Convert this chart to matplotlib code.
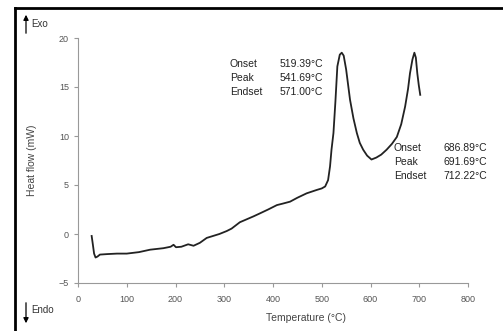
import matplotlib.pyplot as plt
from matplotlib.lines import Line2D
from matplotlib.patches import FancyArrowPatch

# DSC curve
temperature = [28, 30, 33, 36, 40, 45, 60, 80, 100, 125, 148, 175, 190, 196, 201, 212,
               226, 237, 250, 264, 277, 290, 305, 315, 332, 346, 360, 373, 390, 408,
               420, 435, 450, 469, 490, 500, 507, 513, 517, 520, 524, 528, 532, 537,
               541, 545, 550, 558, 565, 572, 578, 585, 593, 602, 612, 622, 633, 644,
               654, 663, 671, 677, 681, 686, 690, 693, 696, 699, 702]
heat_flow = [-0.2, -0.9, -2.0, -2.4, -2.3, -2.1, -2.05, -2.0, -2.0, -1.85, -1.6, -1.45,
             -1.3, -1.1, -1.35, -1.3, -1.05, -1.2, -0.9, -0.4, -0.2, 0.0, 0.3, 0.55,
             1.2, 1.5, 1.8, 2.1, 2.5, 2.95, 3.1, 3.3, 3.7, 4.15, 4.5, 4.65, 4.85, 5.5,
             6.9, 8.6, 10.3, 13.5, 17.1, 18.3, 18.5, 18.2, 16.8, 13.7, 11.8, 10.3, 9.3,
             8.6, 8.0, 7.6, 7.8, 8.1, 8.6, 9.2, 9.9, 11.2, 13.0, 14.8, 16.4, 17.8, 18.5,
             18.0, 16.4, 15.2, 14.2]

x_ticks = [0, 100, 200, 300, 400, 500, 600, 700, 800]
x_tick_labels = ["0", "100", "200", "300", "400", "500", "600", "700", "800"]
y_ticks = [-5, 0, 5, 10, 15, 20]

labels_1 = ["Onset", "Peak", "Endset"]
values_1 = ["519.39°C", "541.69°C", "571.00°C"]
labels_2 = ["Onset", "Peak", "Endset"]
values_2 = ["686.89°C", "691.69°C", "712.22°C"]

W, H = 503, 331
plt.rcParams['font.family'] = ['Liberation Sans', 'DejaVu Sans']

fig = plt.figure(figsize=(W / 100, H / 100), dpi=100)
ax = fig.add_axes([78 / W, 1 - 283 / H, 390 / W, 245 / H])

ax.plot(temperature, heat_flow, color="#222222", lw=1.3)
ax.set_xlim(0, 800)
ax.set_ylim(-5, 20)
ax.set_xticks(x_ticks)
ax.set_xticklabels(x_tick_labels)
ax.set_yticks(y_ticks)

for side in ["top", "right"]:
    ax.spines[side].set_visible(False)
for side in ["left", "bottom"]:
    ax.spines[side].set_color("#999999")
    ax.spines[side].set_linewidth(0.8)
ax.tick_params(colors="#999999", labelcolor="#555555", labelsize=6.5, length=3, width=0.8)
ax.tick_params(axis="x", pad=6)

ax.set_xlabel("Temperature (°C)", fontsize=7.5, color="#444444")
ax.xaxis.set_label_coords((306 - 78) / 390, -(318 - 283) / 245 + 0.02)
ax.set_ylabel("Heat flow (mW)", fontsize=7.5, color="#444444")
ax.yaxis.set_label_coords(-(78 - 37) / 390, 0.5)

# annotations for both peaks
for i in range(3):
    fig.text(230 / W, 1 - (64 + 14 * i) / H, labels_1[i], fontsize=7.5, va="center", color="#222222")
    fig.text(280 / W, 1 - (64 + 14 * i) / H, values_1[i], fontsize=7.5, va="center", color="#222222")
    fig.text(394 / W, 1 - (148 + 14 * i) / H, labels_2[i], fontsize=7.5, va="center", color="#222222")
    fig.text(443 / W, 1 - (148 + 14 * i) / H, values_2[i], fontsize=7.5, va="center", color="#222222")

# Exo / Endo arrows
fig.patches.append(FancyArrowPatch(
    (26 / W, 1 - 36 / H), (26 / W, 1 - 12 / H), transform=fig.transFigure,
    arrowstyle="-|>,head_length=3,head_width=1.5", color="black", lw=0.9))
fig.text(31 / W, 1 - 24 / H, "Exo", fontsize=7, va="center", color="#333333")
fig.patches.append(FancyArrowPatch(
    (26 / W, 1 - 300 / H), (26 / W, 1 - 326 / H), transform=fig.transFigure,
    arrowstyle="-|>,head_length=3,head_width=1.5", color="black", lw=0.9))
fig.text(31 / W, 1 - 310 / H, "Endo", fontsize=7, va="center", color="#333333")

# outer frame: left and top only are visible
fig.add_artist(Line2D([15 / W, 15 / W], [0, 1 - 8 / H], transform=fig.transFigure, color="black", lw=2))
fig.add_artist(Line2D([15 / W, 1], [1 - 8 / H, 1 - 8 / H], transform=fig.transFigure, color="black", lw=2))

fig.savefig("out.png", dpi=100)
